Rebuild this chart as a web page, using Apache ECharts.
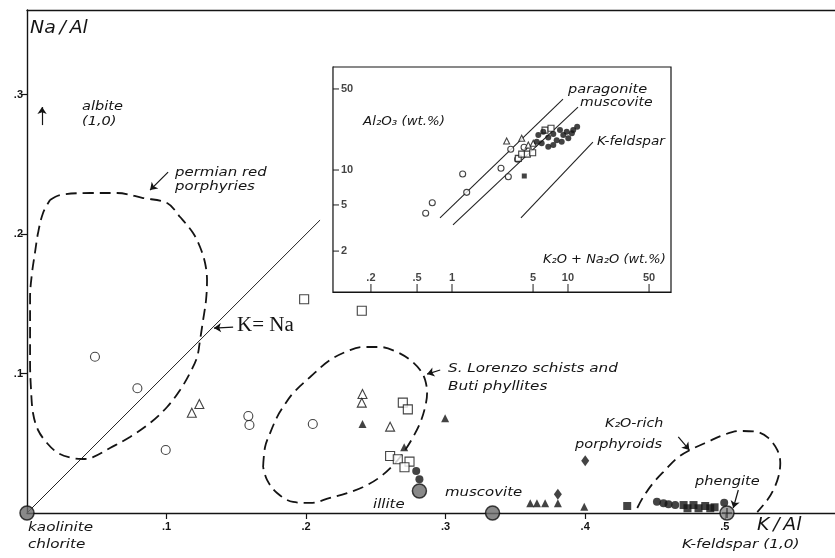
<!DOCTYPE html>
<html>
<head>
<meta charset="utf-8">
<script src="https://cdn.jsdelivr.net/npm/echarts@6/dist/echarts.min.js"></script>
<style>
  html, body { margin: 0; padding: 0; background: #fff; }
  #chart { width: 835px; height: 558px; }
</style>
</head>
<body>
<div id="chart"></div>
<script>
// ---- Main diagram: Na/Al against K/Al ----
const mainXTicks = [0.1, 0.2, 0.3, 0.4, 0.5];
const mainYTicks = [0.1, 0.2, 0.3];

const openCircles = [[0.0487, 0.1120], [0.0791, 0.0894], [0.0994, 0.0452], [0.1586, 0.0695], [0.1594, 0.0631], [0.2048, 0.0638]];
const openTriangles = [[0.1181, 0.0719], [0.1235, 0.0781], [0.2404, 0.0853], [0.2399, 0.0791], [0.2602, 0.0619]];
const openSquares = [[0.1986, 0.1532], [0.2399, 0.1450], [0.2693, 0.0791], [0.2729, 0.0743], [0.2602, 0.0409], [0.2657, 0.0385], [0.2741, 0.0368], [0.2705, 0.0328]];
const filledTriangles = [[0.2404, 0.0638], [0.2996, 0.0679], [0.2703, 0.0471], [0.3606, 0.0070], [0.3654, 0.0070], [0.3713, 0.0070], [0.3804, 0.0070], [0.3993, 0.0045]];
const filledDiamonds = [[0.3804, 0.0134], [0.4000, 0.0375]];
const filledCircles = [[0.2789, 0.0301], [0.2812, 0.0242], [0.4514, 0.0081], [0.4561, 0.0070], [0.4597, 0.0062], [0.4645, 0.0057], [0.4996, 0.0074]];
const filledSquares = [[0.4301, 0.0050], [0.4705, 0.0057], [0.4733, 0.0034], [0.4776, 0.0057], [0.4812, 0.0034], [0.4860, 0.0050], [0.4896, 0.0034], [0.4927, 0.0041]];

// mineral end-members: kaolinite/chlorite, illite, muscovite
const endMembers = [[0, 0], [0.2812, 0.0158], [0.3336, 0]];
const phengite = [[0.5016, 0]];

// K = Na reference line
const kNaLine = [[0, 0], [0.21, 0.21]];

// dashed field outlines
const permianField = [[0.0165, 0.2244], [0.0237, 0.2280], [0.0452, 0.2294], [0.0645, 0.2294], [0.0832, 0.2258], [0.1004, 0.2222], [0.1097, 0.2122], [0.1190, 0.2007], [0.1240, 0.1907], [0.1276, 0.1792], [0.1290, 0.1670], [0.1283, 0.1527], [0.1262, 0.1384], [0.1240, 0.1240], [0.1219, 0.1118], [0.1168, 0.1004], [0.1097, 0.0882], [0.1004, 0.0760], [0.0882, 0.0645], [0.0738, 0.0545], [0.0595, 0.0466], [0.0473, 0.0401], [0.0401, 0.0387], [0.0323, 0.0394], [0.0222, 0.0430], [0.0143, 0.0502], [0.0079, 0.0595], [0.0043, 0.0717], [0.0029, 0.0882], [0.0022, 0.1075], [0.0022, 0.1312], [0.0022, 0.1548], [0.0036, 0.1720], [0.0057, 0.1864], [0.0079, 0.2007], [0.0115, 0.2151], [0.0165, 0.2244]];
const lorenzoField = [[0.1692, 0.0330], [0.1706, 0.0473], [0.1742, 0.0573], [0.1792, 0.0688], [0.1835, 0.0760], [0.1907, 0.0860], [0.2029, 0.0975], [0.2172, 0.1097], [0.2315, 0.1168], [0.2409, 0.1190], [0.2530, 0.1190], [0.2652, 0.1154], [0.2746, 0.1097], [0.2817, 0.1025], [0.2853, 0.0953], [0.2867, 0.0860], [0.2853, 0.0760], [0.2817, 0.0645], [0.2767, 0.0545], [0.2710, 0.0452], [0.2638, 0.0358], [0.2530, 0.0258], [0.2409, 0.0186], [0.2294, 0.0143], [0.2172, 0.0108], [0.2029, 0.0072], [0.1907, 0.0079], [0.1792, 0.0143], [0.1720, 0.0237], [0.1692, 0.0330]];
const porphyroidField = [[0.4373, 0.0036], [0.4416, 0.0115], [0.4487, 0.0215], [0.4573, 0.0308], [0.4659, 0.0394], [0.4753, 0.0452], [0.4875, 0.0509], [0.4989, 0.0559], [0.5111, 0.0588], [0.5233, 0.0581], [0.5312, 0.0538], [0.5376, 0.0452], [0.5398, 0.0358], [0.5384, 0.0258], [0.5348, 0.0165], [0.5305, 0.0093], [0.5233, 0.0007]];

// annotation arrows: [from, to]
const arrows = [
  [[0.0108, 0.2781], [0.0108, 0.2910]],
  [[0.1011, 0.2444], [0.0882, 0.2315]],
  [[0.1477, 0.1333], [0.1340, 0.1326]],
  [[0.2961, 0.1025], [0.2867, 0.0996]],
  [[0.4667, 0.0545], [0.4746, 0.0452]],
  [[0.5097, 0.0165], [0.5061, 0.0036]]
];

// ---- Inset: Al2O3 against K2O + Na2O (log-log) ----
const insetXRange = [0.0942, 77.3];
const insetYRange = [0.888, 77.3];
const insetXTicks = [0.2, 0.5, 1, 5, 10, 50];
const insetYTicks = [2, 5, 10, 50];
const insetOpenCircles = [[0.593, 4.24], [0.676, 5.22], [1.236, 9.24], [1.339, 6.42], [2.645, 10.35], [3.06, 8.75], [3.21, 15.1], [3.68, 12.4], [4.18, 15.7]];
const insetOpenTriangles = [[2.96, 17.8], [3.99, 18.8], [4.55, 16.4], [5.02, 17.0]];
const insetOpenSquares = [[3.73, 12.6], [3.99, 13.7], [4.46, 13.7], [4.96, 14.1], [6.34, 22.1], [7.14, 22.9]];
const insetFilledSquares = [[4.20, 8.88]];
const insetFilledCircles = [[5.55, 20.0], [6.12, 21.4], [6.76, 19.1], [7.47, 20.4], [7.99, 18.1], [8.53, 22.1], [9.11, 20.0], [9.75, 21.4], [10.8, 20.7], [5.93, 17.0], [6.76, 15.9], [7.47, 16.4], [8.83, 17.5], [10.06, 18.8], [11.1, 22.1], [12.0, 23.6], [5.37, 17.5]];
const paragoniteLine = [[0.788, 3.86], [9.06, 40.9]];
const muscoviteLine = [[1.02, 3.36], [12.2, 34.9]];
const kfeldsparLine = [[3.93, 3.86], [16.4, 17.4]];

const INK = '#141414';
const tickFont = { fontFamily: 'Liberation Sans', fontWeight: 'bold', fontSize: 11, color: INK };
const labelFont = 'italic 13px "DejaVu Sans"';

function dec(v) { return v < 1 ? '.' + Math.round(v * 10) : String(Math.round(v)); }

function scatter(data, symbol, size, filled, xi, yi, extra) {
  return Object.assign({
    type: 'scatter', data: data, symbol: symbol, symbolSize: size,
    xAxisIndex: xi, yAxisIndex: yi, silent: true, z: 5,
    itemStyle: filled ? { color: INK } : { color: '#fff', borderColor: INK, borderWidth: 1.1 }
  }, extra || {});
}
function dashed(data) {
  return { type: 'line', data: data, smooth: 0.35, symbol: 'none', silent: true, z: 3,
    xAxisIndex: 0, yAxisIndex: 0,
    lineStyle: { color: INK, width: 1.8, type: [11, 6] } };
}
function solid(data, xi, yi, w) {
  return { type: 'line', data: data, symbol: 'none', silent: true, z: 3,
    xAxisIndex: xi, yAxisIndex: yi, lineStyle: { color: '#222', width: w } };
}
function txt(text, x, y, sx, font) {
  return { type: 'text', x: x, y: y, scaleX: sx || 1, z: 20, silent: true,
    style: { text: text, font: font || labelFont, fill: INK, verticalAlign: 'middle', align: 'left' } };
}

// tick marks and labels of the log-log inset, placed on its own log axes
const insetXTickMarks = {
  type: 'scatter', xAxisIndex: 2, yAxisIndex: 1, silent: true, clip: false, z: 6,
  data: insetXTicks.map(v => [v, insetYRange[0]]),
  symbol: 'rect', symbolSize: [1.2, 8], symbolOffset: [0, -4], itemStyle: { color: INK },
  label: Object.assign({ show: true, position: 'top', distance: 1, formatter: p => dec(p.value[0]) }, tickFont)
};
const insetYTickMarks = {
  type: 'scatter', xAxisIndex: 2, yAxisIndex: 1, silent: true, clip: false, z: 6,
  data: insetYTicks.map(v => [insetXRange[0], v]),
  symbol: 'rect', symbolSize: [6, 1.2], symbolOffset: [3, 0], itemStyle: { color: INK },
  label: Object.assign({ show: true, position: 'right', distance: 2, formatter: p => dec(p.value[1]) }, tickFont)
};

const chart = echarts.init(document.getElementById('chart'), null, { renderer: 'canvas' });

chart.setOption({
  animation: false,
  backgroundColor: '#fff',
  grid: [
    { left: 27, top: 10, right: 0, bottom: 45 },
    { left: 333, top: 67, width: 338, height: 225, show: true, backgroundColor: '#fff', borderColor: INK, borderWidth: 1.2, z: 2 }
  ],
  xAxis: [
    { type: 'value', gridIndex: 0, min: 0, max: 0.579, splitLine: { show: false },
      axisLine: { lineStyle: { color: INK, width: 1.4 } },
      axisTick: { customValues: mainXTicks, length: 6, lineStyle: { color: INK, width: 1.2 } },
      axisLabel: Object.assign({ customValues: mainXTicks, margin: 8, formatter: dec }, tickFont) },
    { type: 'value', gridIndex: 0, position: 'top', min: 0, max: 0.579, splitLine: { show: false },
      axisLine: { lineStyle: { color: INK, width: 1.4 } }, axisTick: { show: false }, axisLabel: { show: false } },
    { type: 'log', gridIndex: 1, logBase: 10, min: insetXRange[0], max: insetXRange[1], splitLine: { show: false },
      axisLine: { lineStyle: { color: INK, width: 1.2 } },
      axisTick: { show: false }, axisLabel: { show: false } }
  ],
  yAxis: [
    { type: 'value', gridIndex: 0, min: 0, max: 0.3606, splitLine: { show: false },
      axisLine: { lineStyle: { color: INK, width: 1.4 } },
      axisTick: { customValues: mainYTicks, length: 6, lineStyle: { color: INK, width: 1.2 } },
      axisLabel: Object.assign({ customValues: mainYTicks, margin: 4, formatter: dec }, tickFont) },
    { type: 'log', gridIndex: 1, logBase: 10, min: insetYRange[0], max: insetYRange[1], splitLine: { show: false },
      axisLine: { lineStyle: { color: INK, width: 1.2 } },
      axisTick: { show: false }, axisLabel: { show: false } }
  ],
  series: [
    solid(kNaLine, 0, 0, 1),
    dashed(permianField),
    dashed(lorenzoField),
    dashed(porphyroidField),
    { type: 'line', data: [], xAxisIndex: 0, yAxisIndex: 0, silent: true,
      markLine: { silent: true, symbol: ['none', 'arrow'], symbolSize: 7, animation: false,
        label: { show: false }, lineStyle: { color: INK, width: 1.2, type: 'solid' },
        data: arrows.map(a => [{ coord: a[0] }, { coord: a[1] }]) } },
    scatter(openCircles, 'circle', 9, false, 0, 0),
    scatter(openTriangles, 'triangle', 9, false, 0, 0),
    scatter(openSquares, 'rect', 9, false, 0, 0),
    scatter(filledTriangles, 'triangle', 8, true, 0, 0),
    scatter(filledDiamonds, 'diamond', [8, 11], true, 0, 0),
    scatter(filledCircles, 'circle', 8, true, 0, 0),
    scatter(filledSquares, 'rect', 8, true, 0, 0),
    scatter(endMembers, 'circle', 14, true, 0, 0, { itemStyle: { color: '#6b6b6b', borderColor: '#111', borderWidth: 1.5 }, z: 6 }),
    scatter(phengite, 'circle', 14, true, 0, 0, { itemStyle: { color: '#8a8a8a', borderColor: '#111', borderWidth: 1.5 }, z: 6 }),
    scatter(phengite, 'path://M5,0L5,10M0,5L10,5', 10, false, 0, 0, { itemStyle: { color: 'none', borderColor: '#111', borderWidth: 1.2 }, z: 7 }),

    insetXTickMarks,
    insetYTickMarks,
    solid(paragoniteLine, 2, 1, 1.1),
    solid(muscoviteLine, 2, 1, 1.1),
    solid(kfeldsparLine, 2, 1, 1.1),
    scatter(insetOpenCircles, 'circle', 6, false, 2, 1),
    scatter(insetOpenTriangles, 'triangle', 6, false, 2, 1),
    scatter(insetOpenSquares, 'rect', 6, false, 2, 1),
    scatter(insetFilledSquares, 'rect', 5, true, 2, 1),
    scatter(insetFilledCircles, 'circle', 6, true, 2, 1)
  ],
  graphic: [
    txt('Na\u2009/\u2009Al', 30, 28, 1.05, 'italic 18px "DejaVu Sans"'),
    txt('K\u2009/\u2009Al', 757, 525, 1.05, 'italic 18px "DejaVu Sans"'),
    txt('albite', 82, 107, 1.12),
    txt('(1,0)', 82, 122, 1.12),
    txt('permian red', 175, 173, 1.15),
    txt('porphyries', 175, 187, 1.15),
    txt('K= Na', 237, 326, 1.05, '20px "Liberation Serif"'),
    txt('kaolinite', 28, 528, 1.17),
    txt('chlorite', 28, 545, 1.17),
    txt('S. Lorenzo schists and', 448, 369, 1.17),
    txt('Buti phyllites', 448, 387, 1.17),
    txt('illite', 373, 505, 1.15),
    txt('muscovite', 445, 493, 1.15),
    txt('K₂O-rich', 605, 424, 1.1),
    txt('porphyroids', 575, 445, 1.12),
    txt('phengite', 695, 482, 1.12),
    txt('K-feldspar (1,0)', 682, 545, 1.18),
    txt('paragonite', 568, 90, 1.12),
    txt('muscovite', 580, 103, 1.08),
    txt('K-feldspar', 597, 142, 1.05),
    txt('Al₂O₃ (wt.%)', 363, 122, 1.03),
    txt('K₂O + Na₂O (wt.%)', 543, 260, 1.0)
  ]
});
</script>
</body>
</html>
